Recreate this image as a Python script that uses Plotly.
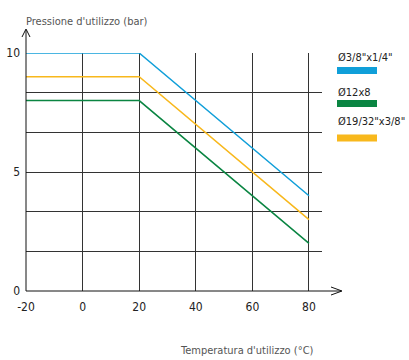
import plotly.graph_objects as go

# ---- data ----
temps = [-20, 20, 80]
series_names = ['Ø3/8"x1/4"', 'Ø12x8', 'Ø19/32"x3/8"']
series_values = [
    [10, 10, 4],
    [8, 8, 2],
    [9, 9, 3],
]
series_colors = ['#109fd9', '#0a8542', '#f8b81c']
x_ticks = [-20, 0, 20, 40, 60, 80]
y_grid = [0, 10/6, 20/6, 5, 40/6, 50/6, 10]
y_labels = ['0', '', '', '5', '', '', '10']

W, H = 409, 360
L, R, T, B = 26, 322, 53, 291  # plot area in pixels


def px(x):
    return (x - L) / (R - L)


def py(y):
    return (B - y) / (B - T)


FONT = "Liberation Sans Narrow, DejaVu Sans Condensed, Roboto, Arial, sans-serif"

fig = go.Figure()
for name, vals, col in zip(series_names, series_values, series_colors):
    fig.add_trace(go.Scatter(x=temps, y=vals, mode='lines', name=name,
                             line=dict(color=col, width=1.5), showlegend=False))

fig.update_layout(
    width=W, height=H,
    margin=dict(l=L, r=W - R, t=T, b=H - B, autoexpand=False),
    paper_bgcolor='white', plot_bgcolor='white',
    font=dict(family=FONT, size=12, color='#222'),
    xaxis=dict(range=[-20, 84.6], tickvals=x_ticks, ticktext=[str(v) for v in x_ticks],
               showgrid=True, gridcolor='#333', gridwidth=1, zeroline=False, automargin=False,
               showline=False, ticks='', tickfont=dict(size=12, color='#222'), ticklabelstandoff=7),
    yaxis=dict(range=[0, 10], tickvals=y_grid, ticktext=y_labels, automargin=False,
               showgrid=True, gridcolor='#333', gridwidth=1, zeroline=False,
               showline=False, ticks='', tickfont=dict(size=12, color='#222'), ticklabelstandoff=5),
)

shapes = []
line_style = dict(color='#111', width=1)
# x axis with arrow
shapes.append(dict(type='line', xref='paper', yref='paper', x0=px(L), y0=py(B), x1=px(341), y1=py(B), line=line_style))
shapes.append(dict(type='line', xref='paper', yref='paper', x0=px(331), y0=py(287), x1=px(342), y1=py(B), line=line_style))
shapes.append(dict(type='line', xref='paper', yref='paper', x0=px(331), y0=py(295), x1=px(342), y1=py(B), line=line_style))
# y axis with arrow
shapes.append(dict(type='line', xref='paper', yref='paper', x0=px(L), y0=py(B), x1=px(L), y1=py(30), line=line_style))
shapes.append(dict(type='line', xref='paper', yref='paper', x0=px(22), y0=py(37), x1=px(L), y1=py(29), line=line_style))
shapes.append(dict(type='line', xref='paper', yref='paper', x0=px(30), y0=py(37), x1=px(L), y1=py(29), line=line_style))

annotations = []
# legend
leg_text_y = [57, 92, 122]
leg_sw_y = [70.5, 103.5, 138]
for name, col, ty, sy in zip(series_names, series_colors, leg_text_y, leg_sw_y):
    annotations.append(dict(text=name, xref='paper', yref='paper', x=px(336), y=py(ty),
                            xanchor='left', yanchor='middle', showarrow=False,
                            font=dict(size=11, color='#222', family=FONT)))
    shapes.append(dict(type='rect', xref='paper', yref='paper', x0=px(337), x1=px(377),
                       y0=py(sy - 3.5), y1=py(sy + 3.5), fillcolor=col, line=dict(width=0)))

annotations.append(dict(text="Pressione d'utilizzo (bar)", xref='paper', yref='paper',
                        x=px(24), y=py(21), xanchor='left', yanchor='middle', showarrow=False,
                        font=dict(size=11, color='#555', family=FONT)))
annotations.append(dict(text="Temperatura d'utilizzo (°C)", xref='paper', yref='paper',
                        x=px(316), y=py(350), xanchor='right', yanchor='middle', showarrow=False,
                        font=dict(size=11, color='#555', family=FONT)))

fig.update_layout(shapes=shapes, annotations=annotations)
fig.write_html("out.html", config={"displayModeBar": False},
               post_script="document.body.style.margin='0';document.body.style.overflow='hidden';")
